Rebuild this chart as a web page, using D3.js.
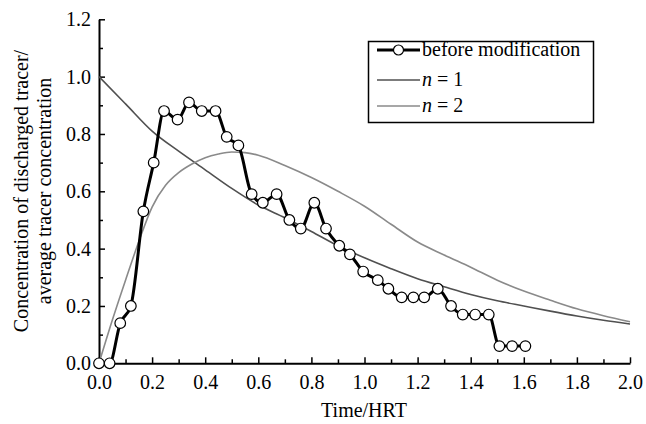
<!DOCTYPE html>
<html>
<head>
<meta charset="utf-8">
<script src="https://cdn.jsdelivr.net/npm/d3@7"></script>
</head>
<body style="margin:0;background:#fff">
<div id="chart"></div>
<script>
// measured tracer data (Time/HRT vs normalised concentration)
var measTime = [0, 0.04, 0.08, 0.12, 0.167, 0.206, 0.245, 0.296, 0.339, 0.387, 0.439, 0.481,
    0.525, 0.575, 0.617, 0.669, 0.717, 0.76, 0.811, 0.855, 0.905, 0.945, 0.995, 1.05,
    1.09, 1.14, 1.184, 1.225, 1.276, 1.326, 1.37, 1.417, 1.468, 1.508, 1.556, 1.606];
var measConc = [0, 0, 0.14, 0.2, 0.53, 0.70, 0.88, 0.85, 0.91, 0.88, 0.88, 0.79,
    0.76, 0.59, 0.56, 0.59, 0.50, 0.47, 0.56, 0.47, 0.41, 0.38, 0.32, 0.29,
    0.26, 0.23, 0.23, 0.23, 0.26, 0.20, 0.17, 0.17, 0.17, 0.06, 0.06, 0.06];

// model curves
var n1Time = [0, 0.1, 0.2, 0.3, 0.4, 0.5, 0.6, 0.7, 0.8, 0.9, 1.0, 1.1, 1.2, 1.3, 1.4, 1.5, 1.6, 1.7, 1.8, 1.9, 2.0];
var n1Conc = [1.0, 0.905, 0.81, 0.74, 0.675, 0.61, 0.552, 0.508, 0.46, 0.41, 0.368, 0.33, 0.295, 0.267, 0.24, 0.218, 0.2, 0.182, 0.165, 0.15, 0.137];

var n2Time = [0, 0.05, 0.1, 0.15, 0.2, 0.25, 0.3, 0.35, 0.4, 0.45, 0.5, 0.55, 0.6, 0.7, 0.8, 0.9, 1.0, 1.1, 1.2, 1.3, 1.4, 1.5, 1.6, 1.7, 1.8, 1.9, 2.0];
var n2Conc = [0, 0.15, 0.29, 0.425, 0.545, 0.62, 0.665, 0.695, 0.717, 0.73, 0.737, 0.735, 0.726, 0.69, 0.648, 0.60, 0.548, 0.485, 0.423, 0.378, 0.335, 0.29, 0.252, 0.22, 0.19, 0.166, 0.145];

var xTicks = [0, 0.2, 0.4, 0.6, 0.8, 1.0, 1.2, 1.4, 1.6, 1.8, 2.0];
var yTicks = [0, 0.2, 0.4, 0.6, 0.8, 1.0, 1.2];
var xMinor = [0.1, 0.3, 0.5, 0.7, 0.9, 1.1, 1.3, 1.5, 1.7, 1.9];
var yMinor = [0.1, 0.3, 0.5, 0.7, 0.9, 1.1];

var w = 646, h = 424;
var serif = "'Liberation Serif', 'Times New Roman', serif";
var fs = "20px";

var svg = d3.select("#chart").append("svg")
    .attr("width", w)
    .attr("height", h);

var x = d3.scaleLinear().domain([0, 2]).range([99, 630]);
var y = d3.scaleLinear().domain([0, 1.2]).range([363.3, 19.3]);

function zip(a, b) { return a.map(function(v, i) { return {t: v, c: b[i]}; }); }
var meas = zip(measTime, measConc);
var n1 = zip(n1Time, n1Conc);
var n2 = zip(n2Time, n2Conc);

function styleAxis(g) {
    g.attr("font-family", serif).attr("font-size", fs);
    g.select(".domain").attr("stroke", "#000").attr("stroke-width", 2);
    g.selectAll(".tick line").attr("stroke", "#000").attr("stroke-width", 1.5);
    g.selectAll(".tick text").attr("fill", "#000");
}

// axes (ticks point inward)
svg.append("g")
    .attr("transform", "translate(0," + y(0) + ")")
    .call(d3.axisBottom(x).tickValues(xTicks).tickFormat(d3.format(".1f"))
        .tickSizeInner(-6).tickSizeOuter(0).tickPadding(12))
    .call(styleAxis);
svg.append("g")
    .attr("transform", "translate(0," + y(0) + ")")
    .call(d3.axisBottom(x).tickValues(xMinor).tickFormat("").tickSizeInner(-4).tickSizeOuter(0))
    .call(styleAxis)
    .select(".domain").remove();

svg.append("g")
    .attr("transform", "translate(" + x(0) + ",0)")
    .call(d3.axisLeft(y).tickValues(yTicks).tickFormat(d3.format(".1f"))
        .tickSizeInner(-6).tickSizeOuter(0).tickPadding(8))
    .call(styleAxis);
svg.append("g")
    .attr("transform", "translate(" + x(0) + ",0)")
    .call(d3.axisLeft(y).tickValues(yMinor).tickFormat("").tickSizeInner(-4).tickSizeOuter(0))
    .call(styleAxis)
    .select(".domain").remove();

// model lines
var line = d3.line()
    .x(function(d) { return x(d.t); })
    .y(function(d) { return y(d.c); })
    .curve(d3.curveMonotoneX);

svg.append("path").datum(n1)
    .attr("d", line)
    .attr("fill", "none")
    .attr("stroke", "#505050")
    .attr("stroke-width", 1.6);

svg.append("path").datum(n2)
    .attr("d", line)
    .attr("fill", "none")
    .attr("stroke", "#8a8a8a")
    .attr("stroke-width", 1.6);

// measured data
svg.append("path").datum(meas)
    .attr("d", line)
    .attr("fill", "none")
    .attr("stroke", "#000")
    .attr("stroke-width", 3);

svg.selectAll("circle.pt").data(meas).enter().append("circle")
    .attr("class", "pt")
    .attr("cx", function(d) { return x(d.t); })
    .attr("cy", function(d) { return y(d.c); })
    .attr("r", 5.3)
    .attr("fill", "#fff")
    .attr("stroke", "#000")
    .attr("stroke-width", 1.2);

// axis titles
svg.append("text")
    .attr("x", 364).attr("y", 417)
    .attr("text-anchor", "middle")
    .attr("font-family", serif).attr("font-size", fs)
    .text("Time/HRT");

var yTitle = svg.append("text")
    .attr("transform", "translate(0,191) rotate(-90)")
    .attr("text-anchor", "middle")
    .attr("font-family", serif).attr("font-size", fs);
yTitle.append("tspan").attr("x", 0).attr("y", 28).text("Concentration of discharged tracer/");
yTitle.append("tspan").attr("x", 0).attr("y", 51).text("average tracer concentration");

// legend
var lg = svg.append("g");
lg.append("rect")
    .attr("x", 368.5).attr("y", 41.5)
    .attr("width", 225).attr("height", 81)
    .attr("fill", "#fff")
    .attr("stroke", "#000")
    .attr("stroke-width", 1.5);

var legendRows = [
    {y: 50, color: "#000", width: 3, marker: true, label: "before modification"},
    {y: 80, color: "#505050", width: 1.6, marker: false, label: "= 1"},
    {y: 106, color: "#8a8a8a", width: 1.6, marker: false, label: "= 2"}
];
legendRows.forEach(function(r) {
    lg.append("line")
        .attr("x1", 377).attr("x2", 420)
        .attr("y1", r.y).attr("y2", r.y)
        .attr("stroke", r.color).attr("stroke-width", r.width);
    if (r.marker) {
        lg.append("circle").attr("cx", 398.5).attr("cy", r.y).attr("r", 5)
            .attr("fill", "#fff").attr("stroke", "#000").attr("stroke-width", 1.2);
    }
    var t = lg.append("text").attr("x", 422).attr("y", r.y + 6)
        .attr("font-family", serif).attr("font-size", fs);
    if (r.marker) {
        t.text(r.label);
    } else {
        t.append("tspan").attr("font-style", "italic").text("n");
        t.append("tspan").text(" " + r.label);
    }
});
</script>
</body>
</html>
